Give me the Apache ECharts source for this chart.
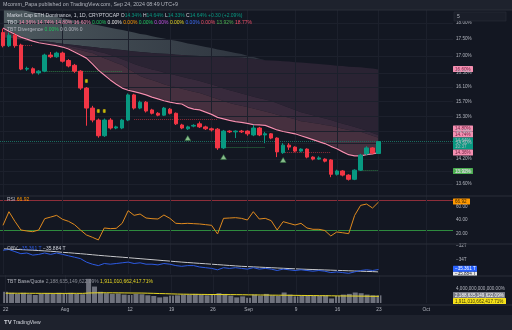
<!DOCTYPE html>
<html>
<head>
<meta charset="utf-8">
<script src="https://cdn.jsdelivr.net/npm/echarts@6.0.0/dist/echarts.min.js"></script>
<style>
html,body{margin:0;padding:0;background:#131722;overflow:hidden}
#chart{width:512px;height:330px}
</style>
</head>
<body>
<div id="chart"></div>
<script>
// ---------- data ----------
const dates = ['07-22','07-23','07-24','07-25','07-26','07-27','07-28','07-29','07-30','07-31',
'08-01','08-02','08-03','08-04','08-05','08-06','08-07','08-08','08-09','08-10','08-11','08-12','08-13','08-14','08-15','08-16','08-17','08-18','08-19','08-20','08-21','08-22','08-23','08-24','08-25','08-26','08-27','08-28','08-29','08-30','08-31',
'09-01','09-02','09-03','09-04','09-05','09-06','09-07','09-08','09-09','09-10','09-11','09-12','09-13','09-14','09-15','09-16','09-17','09-18','09-19','09-20','09-21','09-22','09-23','09-24','09-25','09-26','09-27','09-28','09-29','09-30',
'10-01','10-02','10-03','10-04','10-05'];

const candleOpen  = [17.70,17.30,17.62,17.32,16.61,16.62,16.50,16.55,17.02,16.97,
                     17.08,16.86,16.72,16.55,16.07,15.52,15.20,14.79,15.20,14.99,
                     14.99,15.20,15.88,15.52,15.68,15.47,15.38,15.33,15.49,15.38,
                     15.07,14.97,15.04,15.10,15.02,14.97,14.96,14.48,14.91,14.89,
                     14.91,14.91,14.81,14.99,14.81,14.84,14.73,14.36,14.55,14.50,
                     14.40,14.45,14.25,14.20,14.20,14.18,13.83,13.91,13.81,13.71,
                     13.93,14.33,14.48,14.34];
const candleClose = [17.30,17.62,17.30,16.61,16.63,16.50,16.55,17.02,16.97,17.08,
                     16.84,16.70,16.55,16.07,15.52,15.20,14.79,15.20,14.99,15.02,
                     15.20,15.88,15.52,15.68,15.44,15.38,15.33,15.52,15.38,15.10,
                     14.99,15.02,15.06,15.02,14.97,14.94,14.48,14.91,14.89,14.91,
                     14.89,14.84,14.99,14.81,14.84,14.73,14.38,14.55,14.50,14.40,
                     14.45,14.25,14.20,14.23,14.15,13.83,13.91,13.81,13.71,13.93,
                     14.30,14.48,14.35,14.64];
const candleLow   = [17.25,17.26,17.24,16.58,16.56,16.46,16.45,16.52,16.93,16.94,
                     16.80,16.66,16.50,16.02,15.05,15.14,14.74,14.76,14.95,14.96,
                     14.96,15.17,15.48,15.49,15.40,15.35,15.30,15.31,15.35,15.07,
                     14.96,14.94,15.01,14.99,14.94,14.90,14.43,14.45,14.86,14.73,
                     14.86,14.79,14.78,14.78,14.60,14.70,14.25,14.33,14.43,14.37,
                     14.37,14.22,14.17,14.18,14.12,13.76,13.80,13.78,13.68,13.69,
                     13.91,14.30,14.32,14.33];
const candleHigh  = [17.82,17.70,17.68,17.36,16.68,16.66,16.58,17.06,17.11,17.12,
                     17.12,16.90,16.76,16.58,16.10,15.58,15.24,15.24,15.25,15.05,
                     15.23,15.92,15.91,15.72,15.71,15.50,15.41,15.55,15.52,15.40,
                     15.10,15.05,15.09,15.16,15.05,15.00,14.99,14.94,14.93,14.93,
                     14.94,14.93,15.07,15.02,14.89,14.86,14.75,14.60,14.60,14.52,
                     14.47,14.47,14.27,14.27,14.22,14.20,13.94,13.93,13.83,13.95,
                     14.33,14.52,14.50,14.64];

// TBO lines
const tboFast = [17.84,17.74,17.65,17.56,17.50,17.44,17.39,17.36,17.33,17.30,
                 17.26,17.20,17.11,17.02,16.93,16.76,16.58,16.44,16.30,16.18,
                 16.07,16.01,15.97,15.93,15.88,15.82,15.77,15.72,15.68,15.65,
                 15.63,15.54,15.49,15.47,15.41,15.35,15.27,15.23,15.19,15.16,
                 15.14,15.11,15.08,15.07,15.06,15.00,14.94,14.90,14.87,14.84,
                 14.79,14.74,14.69,14.64,14.59,14.52,14.46,14.38,14.31,14.28,
                 14.28,14.31,14.33,14.36];
const tboMid1 = [17.59,17.56,17.53,17.50,17.47,17.44,17.42,17.40,17.38,17.35,
                 17.33,17.30,17.27,17.23,17.20,17.17,17.12,17.08,17.02,16.96,
                 16.90,16.83,16.76,16.70,16.65,16.60,16.56,16.51,16.47,16.43,
                 16.39,16.35,16.31,16.27,16.22,16.17,16.12,16.06,16.01,15.97,
                 15.92,15.88,15.83,15.79,15.75,15.71,15.65,15.59,15.53,15.47,
                 15.41,15.37,15.33,15.28,15.24,15.20,15.15,15.10,15.06,15.02,
                 14.97,14.92,14.86,14.80];
const tboMid2 = [17.58,17.55,17.52,17.48,17.45,17.42,17.40,17.38,17.35,17.33,
                 17.30,17.26,17.21,17.17,17.12,17.08,17.00,16.93,16.86,16.79,
                 16.73,16.62,16.52,16.41,16.35,16.30,16.24,16.18,16.13,16.09,
                 16.05,16.01,15.97,15.93,15.88,15.82,15.77,15.71,15.66,15.62,
                 15.58,15.55,15.51,15.47,15.43,15.39,15.34,15.30,15.26,15.22,
                 15.17,15.15,15.12,15.10,15.07,15.05,15.01,14.97,14.94,14.91,
                 14.89,14.84,14.79,14.74];
const tboSlow = [17.56,17.54,17.52,17.51,17.49,17.47,17.45,17.43,17.41,17.38,
                 17.36,17.34,17.32,17.30,17.28,17.26,17.24,17.22,17.21,17.19,
                 17.17,17.15,17.13,17.11,17.10,17.08,17.07,17.06,17.05,17.03,
                 17.02,17.01,17.00,16.99,16.98,16.98,16.97,16.96,16.95,16.95,
                 16.94,16.93,16.91,16.89,16.87,16.86,16.85,16.84,16.83,16.81,
                 16.80,16.79,16.77,16.76,16.74,16.73,16.71,16.70,16.68,16.67,
                 16.66,16.64,16.63,16.60];
const tboCloudTop = [18.53,18.50,18.46,18.42,18.38,18.34,18.30,18.27,18.23,18.19,
                 18.15,18.11,18.08,18.04,18.00,17.96,17.93,17.89,17.85,17.81,
                 17.78,17.74,17.70,17.66,17.63,17.59,17.55,17.52,17.48,17.45,
                 17.41,17.37,17.34,17.30,17.26,17.23,17.19,17.16,17.12,17.08,
                 17.05,17.00,16.96,16.91,16.87];

const priceTicks = [18.00,17.50,17.00,16.50,16.10,15.70,15.30,14.90,14.60,14.20,13.90,13.60];
const lastClose = 14.64;

// support / resistance dotted levels
const levelStart = ['07-24','07-29','08-13','08-28','09-07','09-20'];
const levelEnd   = ['07-27','08-11','08-27','09-04','09-15','09-23'];
const levelValue = [17.32,16.56,15.23,14.50,14.37,13.92];
const levelIsSupport = [false,true,false,true,false,true];

const buyDates = ['08-22','08-28','09-07'];
const buyValues = [14.73,14.25,14.18];
const flagDates = ['08-05','08-07','08-08'];
const flagValues = [16.27,15.44,15.44];

// RSI
const rsi = [32,52.5,38,25,23.5,22.4,25,42,44.4,47,
             41,38,33,25,17.5,14,10,28,27,27.5,
             35,54,47,49,43,42,41.5,47.5,42.5,35,
             34.5,35,34.5,34,33,32,19,42.5,43,43.5,
             42.5,40,52.5,41.5,42.5,39,25,37.5,35,32.5,
             35,28,26,26,24.2,16,22,20.8,19.5,47,
             62,64,58,66.92];
const rsiBands = [70, 25];
const rsiTicks = [20, 40, 60];

// OBV (trillions)
const obv = [-32.6,-32.5,-32.8,-33.1,-33.0,-33.3,-33.2,-33.0,-33.2,-33.0,
             -33.2,-33.4,-33.6,-33.8,-34.3,-34.6,-34.8,-34.5,-34.6,-34.5,
             -34.4,-34.3,-34.5,-34.4,-34.6,-34.6,-34.7,-34.5,-34.6,-34.8,
             -34.9,-34.8,-34.8,-35.0,-35.1,-35.2,-35.4,-35.1,-35.2,-35.1,
             -35.2,-35.3,-35.1,-35.3,-35.2,-35.3,-35.5,-35.3,-35.4,-35.5,
             -35.4,-35.5,-35.6,-35.5,-35.6,-35.8,-35.7,-35.8,-35.9,-35.7,
             -35.5,-35.4,-35.5,-35.361];
const obvMa = [-32.40,-32.44,-32.48,-32.52,-32.56,-32.60,-32.65,-32.70,-32.75,-32.82,
               -32.90,-32.96,-33.03,-33.10,-33.17,-33.25,-33.33,-33.40,-33.47,-33.54,
               -33.60,-33.67,-33.74,-33.81,-33.88,-33.95,-34.02,-34.09,-34.16,-34.23,
               -34.30,-34.36,-34.42,-34.48,-34.54,-34.60,-34.66,-34.72,-34.78,-34.84,
               -34.90,-34.94,-34.98,-35.02,-35.06,-35.10,-35.14,-35.18,-35.22,-35.26,
               -35.30,-35.33,-35.36,-35.39,-35.42,-35.45,-35.48,-35.51,-35.54,-35.57,
               -35.60,-35.63,-35.66,-35.70];
const obvTicks = [-32, -34];

// TBT Base/Quote (trillion %)
const tbtBars = [3.2,2.9,2.6,2.9,2.5,2.3,2.6,2.8,2.6,2.9,
                 2.7,2.9,2.6,2.5,6.9,4.7,3.2,2.8,2.6,2.7,
                 2.4,2.3,2.6,2.5,2.2,2.0,1.6,1.8,2.1,2.2,
                 2.4,2.4,2.6,2.4,2.2,2.5,2.8,2.6,2.1,1.6,
                 1.9,1.5,2.4,2.1,2.6,2.2,2.0,3.0,2.4,1.9,
                 2.0,2.2,2.1,2.0,2.2,1.3,2.0,2.4,2.6,3.0,
                 2.8,2.4,2.2,2.19];
const tbtMa = [2.80,2.80,2.79,2.79,2.78,2.77,2.76,2.76,2.75,2.75,
               2.75,2.76,2.76,2.75,2.85,2.90,2.92,2.92,2.91,2.90,
               2.88,2.86,2.85,2.84,2.80,2.76,2.70,2.66,2.60,2.55,
               2.52,2.50,2.48,2.46,2.44,2.42,2.42,2.41,2.40,2.38,
               2.36,2.33,2.31,2.29,2.27,2.25,2.23,2.22,2.20,2.18,
               2.16,2.14,2.12,2.10,2.08,2.05,2.03,2.01,2.00,1.98,
               1.96,1.94,1.92,1.91];

const timeLabelDates = ['07-22','08-01','08-12','08-19','08-26','09-01','09-09','09-16','09-23','10-01'];
const timeLabels     = ['22','Aug','12','19','26','Sep','9','16','23','Oct'];

// ---------- styles ----------
const FONT = 'Liberation Sans, Arial, sans-serif';
const UP = '#089981', DOWN = '#f23645';
const AX = '#b2b5be';
const GRIDC = '#1c202c';
const L = 0, W = 453;

const candleData = candleOpen.map((o, i) => [o, candleClose[i], candleLow[i], candleHigh[i]]);
const vLines = timeLabelDates.map(d => ({xAxis: d, lineStyle: {color: GRIDC, type: 'solid', width: 1}, label: {show: false}}));

function band(upper, lower, fill, z) {
  return {
    type: 'custom', xAxisIndex: 0, yAxisIndex: 0, z: z, silent: true,
    data: [[0, lower[0]]],
    renderItem: function (params, api) {
      const top = [], bot = [];
      for (let i = 0; i < upper.length; i++) {
        if (upper[i] == null || lower[i] == null) continue;
        top.push(api.coord([i, upper[i]]));
        bot.push(api.coord([i, lower[i]]));
      }
      const cs = params.coordSys;
      return {
        type: 'polygon', shape: {points: top.concat(bot.reverse())}, style: {fill: fill},
        clipPath: {type: 'rect', shape: {x: cs.x, y: cs.y, width: cs.width, height: cs.height}}
      };
    }
  };
}

function tag(x, y, w, h, bg, txt, color) {
  return {
    type: 'group', z: 100, children: [
      {type: 'rect', shape: {x: x, y: y, width: w, height: h, r: 0.5}, style: {fill: bg}},
      {type: 'text', x: x + 2, y: y + h / 2 + 0.3, style: {text: txt, fill: color, fontSize: 4.6, fontFamily: FONT, verticalAlign: 'middle'}}
    ]
  };
}
function txt(x, y, text, rich, size) {
  return {type: 'text', x: x, y: y, z: 100, style: {text: text, rich: rich, fontSize: size || 5, fontFamily: FONT, fill: AX, verticalAlign: 'middle'}};
}

const mainMarks = priceTicks.map(v => ({
  yAxis: v, lineStyle: {color: GRIDC, type: 'solid', width: 1},
  label: {show: true, position: 'end', distance: 3, formatter: v.toFixed(2) + '%', color: AX, fontSize: 4.6, fontFamily: FONT}
})).concat(vLines);

const levelMarks = levelStart.map((s, i) => [
  {coord: [s, levelValue[i]], lineStyle: {color: levelIsSupport[i] ? '#2f7a45' : '#8e2c38', type: 'dotted', width: 1}, label: {show: false}},
  {coord: [levelEnd[i], levelValue[i]]}
]);
levelMarks.push({yAxis: lastClose, lineStyle: {color: '#1b6a5e', type: 'dotted', width: 1}, label: {show: false}});

const option = {
  backgroundColor: '#131722',
  animation: false,
  grid: [
    {left: L, width: W, top: 10, height: 185},
    {left: L, width: W, top: 193.4, height: 53.2},
    {left: L, width: W, top: 243.2, height: 30.8},
    {left: L, width: W, top: 275, height: 28}
  ],
  xAxis: [0, 1, 2, 3].map(k => ({
    type: 'category', gridIndex: k, data: dates, boundaryGap: true,
    axisLine: {show: false}, axisTick: {show: false}, splitLine: {show: false},
    axisLabel: k === 3 ? {
      show: true, margin: 4, color: AX, fontSize: 4.8, fontFamily: FONT,
      interval: (idx, val) => timeLabelDates.indexOf(val) >= 0,
      formatter: val => timeLabels[timeLabelDates.indexOf(val)] || ''
    } : {show: false}
  })),
  yAxis: [
    {type: 'log', gridIndex: 0, min: 13.34, max: 18.41, show: false},
    {type: 'value', gridIndex: 1, min: 0, max: 80, interval: 20, position: 'right',
      axisLine: {show: false}, axisTick: {show: false}, splitLine: {show: false},
      axisLabel: {margin: 3, color: AX, fontSize: 4.6, fontFamily: FONT, formatter: v => rsiTicks.indexOf(v) >= 0 ? v.toFixed(2) : ''}},
    {type: 'value', gridIndex: 2, min: -36, max: -31.6, interval: 2, position: 'right',
      axisLine: {show: false}, axisTick: {show: false}, splitLine: {show: false},
      axisLabel: {margin: 3, color: AX, fontSize: 4.6, fontFamily: FONT, formatter: v => obvTicks.indexOf(v) >= 0 ? (v + 'T').replace('-', '\u2212') : ''}},
    {type: 'value', gridIndex: 3, min: 0, max: 8, interval: 4, position: 'right',
      axisLine: {show: false}, axisTick: {show: false}, splitLine: {show: false},
      axisLabel: {margin: 3, color: AX, fontSize: 4.6, fontFamily: FONT, formatter: v => v === 4 ? '4,000,000,000,000.00%' : ''}}
  ],
  series: [
    {type: 'line', xAxisIndex: 0, yAxisIndex: 0, data: [], z: 0, silent: true,
      markLine: {symbol: ['none', 'none'], silent: true, data: mainMarks}},
    band(tboCloudTop, tboSlow, new echarts.graphic.LinearGradient(0, 0, 1, 0, [
      {offset: 0, color: 'rgba(125,145,145,0.55)'}, {offset: 1, color: 'rgba(95,105,115,0.35)'}]), 1),
    band(tboSlow, tboMid1, '#2a2333', 2),
    band(tboMid1, tboMid2, '#382a3c', 3),
    band(tboMid2, tboFast, '#46303f', 4),
    {type: 'line', xAxisIndex: 0, yAxisIndex: 0, data: tboFast, symbol: 'none', z: 5,
      lineStyle: {color: '#f48fb1', width: 1.2, shadowColor: 'rgba(0,0,0,0.8)', shadowBlur: 1}},
    {type: 'candlestick', xAxisIndex: 0, yAxisIndex: 0, data: candleData, z: 6, barWidth: 4,
      itemStyle: {color: UP, color0: DOWN, borderColor: UP, borderColor0: DOWN, borderWidth: 1},
      markLine: {symbol: ['none', 'none'], silent: true, data: levelMarks}},
    {type: 'scatter', xAxisIndex: 0, yAxisIndex: 0, z: 7, symbol: 'triangle', symbolSize: [6, 5],
      data: buyDates.map((d, i) => [d, buyValues[i]]),
      itemStyle: {color: '#a5e6a5', borderColor: '#2a6a3a', borderWidth: 0.6}},
    {type: 'scatter', xAxisIndex: 0, yAxisIndex: 0, z: 7, symbol: 'roundRect', symbolSize: [3, 4],
      data: flagDates.map((d, i) => [d, flagValues[i]]),
      itemStyle: {color: '#f5e100', borderColor: '#222', borderWidth: 0.5}},
    // RSI
    {type: 'line', xAxisIndex: 1, yAxisIndex: 1, data: rsi, symbol: 'none', z: 5,
      lineStyle: {color: '#e08a1e', width: 1},
      markLine: {symbol: ['none', 'none'], silent: true, data: [
        {yAxis: rsiBands[0], lineStyle: {color: '#8e2e3a', type: 'solid', width: 1}, label: {show: false}},
        {yAxis: rsiBands[1], lineStyle: {color: '#2e8b3e', type: 'solid', width: 1}, label: {show: false}}
      ].concat(vLines)}},
    // OBV
    {type: 'line', xAxisIndex: 2, yAxisIndex: 2, data: obvMa, symbol: 'none', z: 4,
      lineStyle: {color: '#c9cbd1', width: 1, shadowColor: '#000', shadowBlur: 1},
      markLine: {symbol: ['none', 'none'], silent: true, data: vLines}},
    {type: 'line', xAxisIndex: 2, yAxisIndex: 2, data: obv, symbol: 'none', z: 5,
      lineStyle: {color: '#2d5be3', width: 1}},
    // TBT
    {type: 'bar', xAxisIndex: 3, yAxisIndex: 3, data: tbtBars, barWidth: 5, z: 3,
      itemStyle: {color: '#6f727d'},
      markLine: {symbol: ['none', 'none'], silent: true, data: vLines}},
    {type: 'line', xAxisIndex: 3, yAxisIndex: 3, data: tbtMa, symbol: 'none', z: 5,
      lineStyle: {color: '#e8d822', width: 1}}
  ],
  graphic: [
    {type: 'rect', z: 90, shape: {x: 0, y: 0, width: 512, height: 10}, style: {fill: '#1e222d'}},
    {type: 'line', z: 90, shape: {x1: 0, y1: 10, x2: 512, y2: 10}, style: {stroke: '#2a2e39', lineWidth: 1}},
    txt(3, 5, 'Mcomm_Papa published on TradingView.com, Sep 24, 2024 08:49 UTC+9', null, 5.3),
    txt(7, 16, '{w|Market Cap ETH Dominance, 1, 1D, CRYPTOCAP }{w|O}{g|14.34%} {w|H}{g|14.64%} {w|L}{g|14.33%} {w|C}{g|14.64%} {g|+0.30 (+2.09%)}',
      {w: {fill: '#d1d4dc', fontSize: 5, fontFamily: FONT}, g: {fill: UP, fontSize: 5, fontFamily: FONT}}),
    txt(7, 23, '{w|TBO} {p|14.36%} {p|14.74%} {p|14.80%} {p|16.60%} {g|0.00%} {x|0.00%} {o|0.00%} {g|0.00%} {m|0.00%} {y|0.00%} {b|0.00%} {r|0.00%} {gg|13.92%} {r|18.77%}',
      {w: {fill: '#d1d4dc', fontSize: 5}, p: {fill: '#f48fb1', fontSize: 5}, g: {fill: '#22c55e', fontSize: 5}, x: {fill: '#e0e0e0', fontSize: 5},
       o: {fill: '#ff9800', fontSize: 5}, m: {fill: '#c050e0', fontSize: 5}, y: {fill: '#e8d822', fontSize: 5}, b: {fill: '#3d6cf5', fontSize: 5},
       r: {fill: '#f0506a', fontSize: 5}, gg: {fill: '#4caf50', fontSize: 5}}),
    txt(7, 30, '{w|TBT Divergence} {g|0.00%} {w|0} {x|0.00%} {w|0}',
      {w: {fill: '#b2b5be', fontSize: 5}, g: {fill: '#22c55e', fontSize: 5}, x: {fill: '#b2b5be', fontSize: 5}}),
    // top right box
    {type: 'rect', z: 95, shape: {x: 454, y: 12, width: 52, height: 9}, style: {fill: '#1a1e29', stroke: '#2a2e39', lineWidth: 0.6}},
    txt(457, 16.5, '5', null, 5),
    // price tags
    tag(453, 66, 20, 6, '#f48fb1', '16.60%', '#6b1f40'),
    tag(453, 125.5, 20, 6, '#f48fb1', '14.80%', '#6b1f40'),
    tag(453, 131.5, 20, 6, '#f48fb1', '14.74%', '#6b1f40'),
    tag(453, 137.5, 20, 12, UP, '', '#fff'),
    txt(455, 140.6, '14.64%', null, 4.6),
    txt(455, 146.4, '10:37', null, 4.6),
    tag(453, 149.5, 20, 6, '#f48fb1', '14.36%', '#6b1f40'),
    tag(453, 168, 20, 6, '#4caf50', '13.92%', '#ffffff'),
    // pane separators
    {type: 'line', z: 90, shape: {x1: 0, y1: 196, x2: 512, y2: 196}, style: {stroke: '#2a2e39', lineWidth: 1}},
    {type: 'line', z: 90, shape: {x1: 0, y1: 244, x2: 512, y2: 244}, style: {stroke: '#2a2e39', lineWidth: 1}},
    {type: 'line', z: 90, shape: {x1: 0, y1: 276, x2: 512, y2: 276}, style: {stroke: '#2a2e39', lineWidth: 1}},
    {type: 'line', z: 90, shape: {x1: 0, y1: 305, x2: 512, y2: 305}, style: {stroke: '#2a2e39', lineWidth: 1}},
    // RSI
    txt(7, 200, '{w|RSI} {o|66.92}', {w: {fill: '#b2b5be', fontSize: 5}, o: {fill: '#ff9800', fontSize: 5}}),
    tag(453, 198.5, 17, 6, '#ff9800', '66.92', '#3d2500'),
    // OBV
    txt(7, 249, '{w|OBV} {b|\u221235.361 T} {x|\u221235.884 T}', {w: {fill: '#b2b5be', fontSize: 5}, b: {fill: '#2d5be3', fontSize: 5}, x: {fill: '#d1d4dc', fontSize: 5}}),
    tag(453, 271.5, 24, 4.5, '#e6e6e6', '\u221235.884 T', '#131722'),
    tag(453, 265.8, 24, 6, '#2962ff', '\u221235.361 T', '#ffffff'),
    // TBT
    txt(7, 282, '{w|TBT Base/Quote} {x|2,188,635,149,622.09%} {y|1,911,010,662,417.71%}',
      {w: {fill: '#b2b5be', fontSize: 5}, x: {fill: '#8a8d96', fontSize: 5}, y: {fill: '#e8d822', fontSize: 5}}),
    tag(453, 292, 52, 6, '#787b86', '2,188,635,149,622.09%', '#ffffff'),
    tag(453, 298, 53, 6, '#f5e11a', '1,911,010,662,417.71%', '#3a3500'),
    // footer
    {type: 'rect', z: 90, shape: {x: 0, y: 315, width: 512, height: 15}, style: {fill: '#1e222d'}},
    txt(4, 322.5, '{b|TV} {w|TradingView}', {b: {fill: '#d1d4dc', fontSize: 6, fontWeight: 'bold'}, w: {fill: '#d1d4dc', fontSize: 5}})
  ]
};

const chart = echarts.init(document.getElementById('chart'), null, {renderer: 'canvas'});
chart.setOption(option);
</script>
</body>
</html>
